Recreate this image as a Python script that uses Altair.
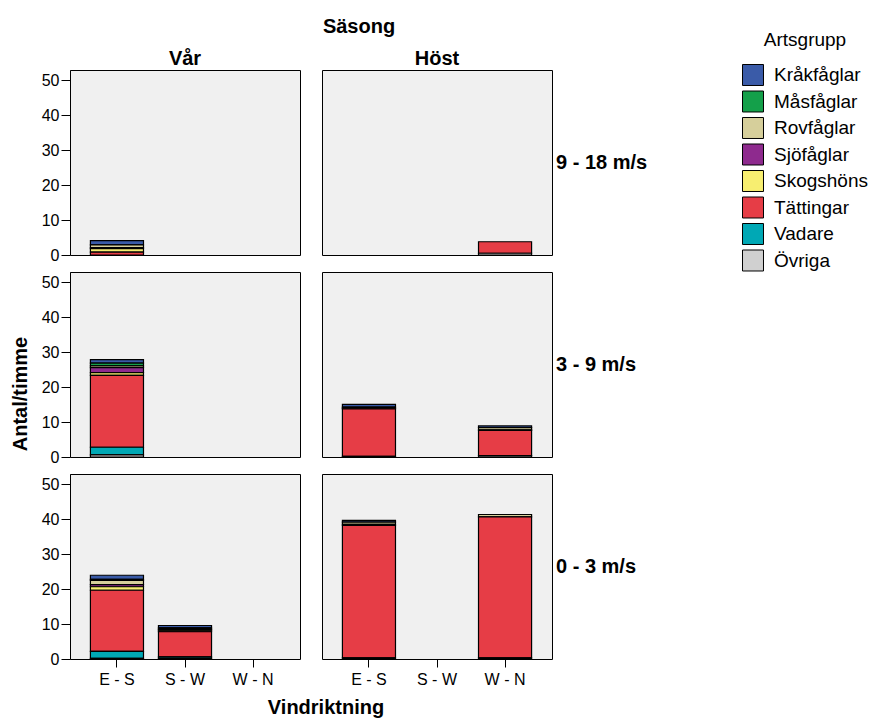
import altair as alt
import pandas as pd

seasons = ["Vår", "Höst"]
winds = ["9 - 18 m/s", "3 - 9 m/s", "0 - 3 m/s"]
directions = ["E - S", "S - W", "W - N"]
groups = ["Kråkfåglar", "Måsfåglar", "Rovfåglar", "Sjöfåglar",
          "Skogshöns", "Tättingar", "Vadare", "Övriga"]
colors = ["#3A5BA8", "#14A04A", "#D6CF9B", "#8E2A8E",
          "#F7EE70", "#E63D46", "#00A8B5", "#D0D0D0"]

# one entry per bar (season, wind class, direction)
cell_season = ["Vår", "Vår", "Vår", "Vår", "Höst", "Höst", "Höst", "Höst", "Höst"]
cell_wind = ["9 - 18 m/s", "3 - 9 m/s", "0 - 3 m/s", "0 - 3 m/s",
             "3 - 9 m/s", "3 - 9 m/s", "0 - 3 m/s", "0 - 3 m/s", "9 - 18 m/s"]
cell_dir = ["E - S", "E - S", "E - S", "S - W", "E - S", "W - N", "E - S", "W - N", "W - N"]

krakfaglar = [1.2, 1.0, 1.2, 0.7, 0.8, 0.5, 0.5, 0.0, 0.0]
masfaglar = [0.0, 0.8, 0.3, 0.3, 0.0, 0.0, 0.0, 0.0, 0.0]
rovfaglar = [0.8, 0.5, 1.2, 0.2, 0.3, 0.6, 0.6, 0.7, 0.0]
sjofaglar = [0.3, 1.4, 0.6, 0.3, 0.0, 0.0, 0.0, 0.0, 0.0]
skogshons = [1.0, 0.8, 1.0, 0.3, 0.2, 0.2, 0.3, 0.0, 0.0]
tattingar = [0.8, 20.6, 17.5, 7.2, 13.6, 7.2, 38.0, 40.4, 3.3]
vadare = [0.0, 2.2, 2.0, 0.4, 0.0, 0.0, 0.0, 0.0, 0.0]
ovriga = [0.0, 0.6, 0.2, 0.2, 0.2, 0.4, 0.3, 0.3, 0.5]

series = [krakfaglar, masfaglar, rovfaglar, sjofaglar,
          skogshons, tattingar, vadare, ovriga]

rows = []
for gi, (g, vals) in enumerate(zip(groups, series)):
    for i, v in enumerate(vals):
        if v > 0:
            rows.append({"Säsong": cell_season[i], "Vind": cell_wind[i],
                         "Vindriktning": cell_dir[i], "Artsgrupp": g,
                         "Antal": v, "idx": gi})
df = pd.DataFrame(rows)

FONT = "Liberation Sans"
W, H = 230, 185

bars = alt.Chart().mark_bar(stroke="black", strokeWidth=1.2).encode(
    x=alt.X("Vindriktning:N",
            scale=alt.Scale(domain=directions, paddingInner=0.22, paddingOuter=0.3),
            axis=alt.Axis(title=None, labelAngle=0, labelFontSize=16,
                          labelFont=FONT, labelColor="black", tickColor="black",
                          tickSize=8, domain=False, labelPadding=4)),
    y=alt.Y("Antal:Q", stack="zero",
            scale=alt.Scale(domain=[0, 53], nice=False),
            axis=alt.Axis(title=None, values=[0, 10, 20, 30, 40, 50],
                          labelFontSize=16, labelFont=FONT, labelColor="black",
                          tickColor="black", tickSize=9, domainColor="black",
                          grid=False, labelPadding=2)),
    color=alt.Color("Artsgrupp:N", scale=alt.Scale(domain=groups, range=colors),
                    legend=alt.Legend(title="Artsgrupp", orient="none",
                                      legendX=672, legendY=-39,
                                      titleFontWeight="normal", titleFontSize=19,
                                      titleFont=FONT, titleColor="black",
                                      labelFontSize=19, labelFont=FONT,
                                      labelColor="black", symbolType="square",
                                      symbolSize=440, symbolStrokeColor="black",
                                      symbolStrokeWidth=1, symbolOpacity=1,
                                      rowPadding=0.5, labelOffset=10,
                                      titlePadding=14, titleAnchor="middle")),
    order=alt.Order("idx:Q", sort="descending"),
)

row_labels = alt.Chart().transform_filter(
    "datum['Säsong'] == 'Höst'"
).transform_aggregate(
    n="count()", groupby=["Vind"]
).mark_text(align="left", baseline="middle", fontSize=20, fontWeight="bold",
            font=FONT, color="black").encode(
    x=alt.value(W + 4), y=alt.value(H / 2), text="Vind:N")

x_title = alt.Chart().transform_filter(
    "datum['Säsong'] == 'Vår' && datum['Vind'] == '0 - 3 m/s'"
).transform_aggregate(
    n="count()", groupby=["Säsong"]
).mark_text(align="center", baseline="middle", fontSize=20, fontWeight="bold",
            font=FONT, color="black").encode(
    x=alt.value(256), y=alt.value(H + 49), text=alt.value("Vindriktning"))

layered = alt.layer(bars, row_labels, x_title, data=df).properties(width=W, height=H)

chart = layered.facet(
    column=alt.Column("Säsong:N", sort=seasons,
                      header=alt.Header(titleFontSize=20, titleFontWeight="bold",
                                        titleFont=FONT, titleColor="black",
                                        labelFontSize=20, labelFontWeight="bold",
                                        labelFont=FONT, labelColor="black",
                                        titlePadding=2, labelPadding=1)),
    row=alt.Row("Vind:N", sort=winds, title="Antal/timme",
                header=alt.Header(labels=False, titleOrient="left",
                                  titleFontSize=20, titleFontWeight="bold",
                                  titleFont=FONT, titleColor="black",
                                  titlePadding=0)),
    spacing={"row": 17, "column": 22},
).properties(
    bounds="flush",
    padding={"left": 2, "top": 9, "right": 0, "bottom": 0}
).configure_view(fill="#F0F0F0", stroke="black", strokeWidth=1)

chart.save("out.html", embed_options={"renderer": "svg", "actions": False})
